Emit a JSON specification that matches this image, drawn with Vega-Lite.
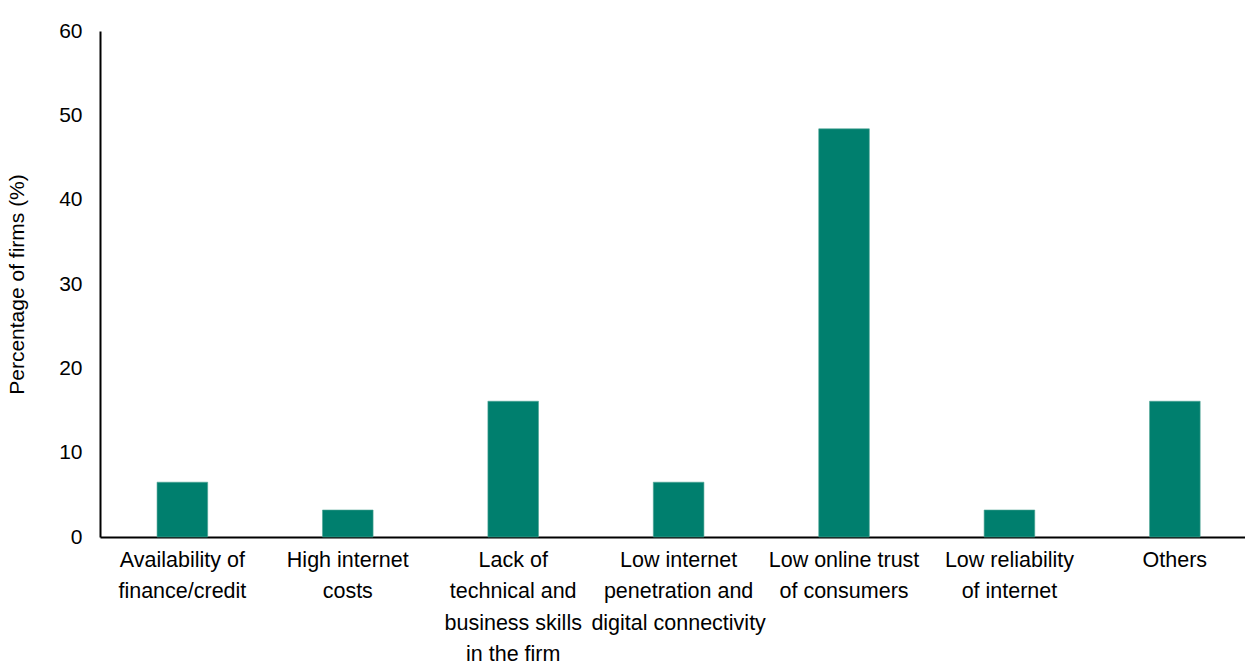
{
  "$schema": "https://vega.github.io/schema/vega-lite/v6.json",
  "width": 1145,
  "height": 506,
  "autosize": "none",
  "padding": {"left": 100, "top": 31, "right": 0, "bottom": 128},
  "background": "white",
  "config": {
    "view": {"stroke": null},
    "font": "Liberation Sans, Arial, sans-serif"
  },
  "data": {
    "values": [
      {"barrier": "Availability of|finance/credit", "pct": 6.5},
      {"barrier": "High internet|costs", "pct": 3.2},
      {"barrier": "Lack of|technical and|business skills|in the firm", "pct": 16.1},
      {"barrier": "Low internet|penetration and|digital connectivity", "pct": 6.5},
      {"barrier": "Low online trust|of consumers", "pct": 48.4},
      {"barrier": "Low reliability|of internet", "pct": 3.2},
      {"barrier": "Others", "pct": 16.1}
    ]
  },
  "mark": {"type": "bar", "color": "#007F6E", "stroke": "#4FA595", "strokeWidth": 0.6},
  "encoding": {
    "x": {
      "field": "barrier",
      "type": "nominal",
      "sort": null,
      "scale": {"paddingInner": 0.694, "paddingOuter": 0.308, "align": 0.56},
      "axis": {
        "title": null,
        "labelExpr": "split(datum.label, '|')",
        "labelAngle": 0,
        "labelAlign": "center",
        "labelBaseline": "top",
        "labelFontSize": 21.5,
        "labelColor": "#000000",
        "labelLineHeight": 31.5,
        "labelPadding": 12,
        "labelLimit": 300,
        "ticks": false,
        "domainColor": "#000000",
        "domainWidth": 2,
        "grid": false
      }
    },
    "y": {
      "field": "pct",
      "type": "quantitative",
      "scale": {"domain": [0, 60], "nice": false},
      "axis": {
        "title": "Percentage of firms (%)",
        "values": [0, 10, 20, 30, 40, 50, 60],
        "labelFontSize": 21,
        "labelColor": "#000000",
        "labelPadding": 18,
        "ticks": false,
        "grid": false,
        "domainColor": "#000000",
        "domainWidth": 2,
        "titleFontSize": 21,
        "titleFontWeight": "normal",
        "titleColor": "#000000",
        "titlePadding": 31
      }
    }
  }
}
